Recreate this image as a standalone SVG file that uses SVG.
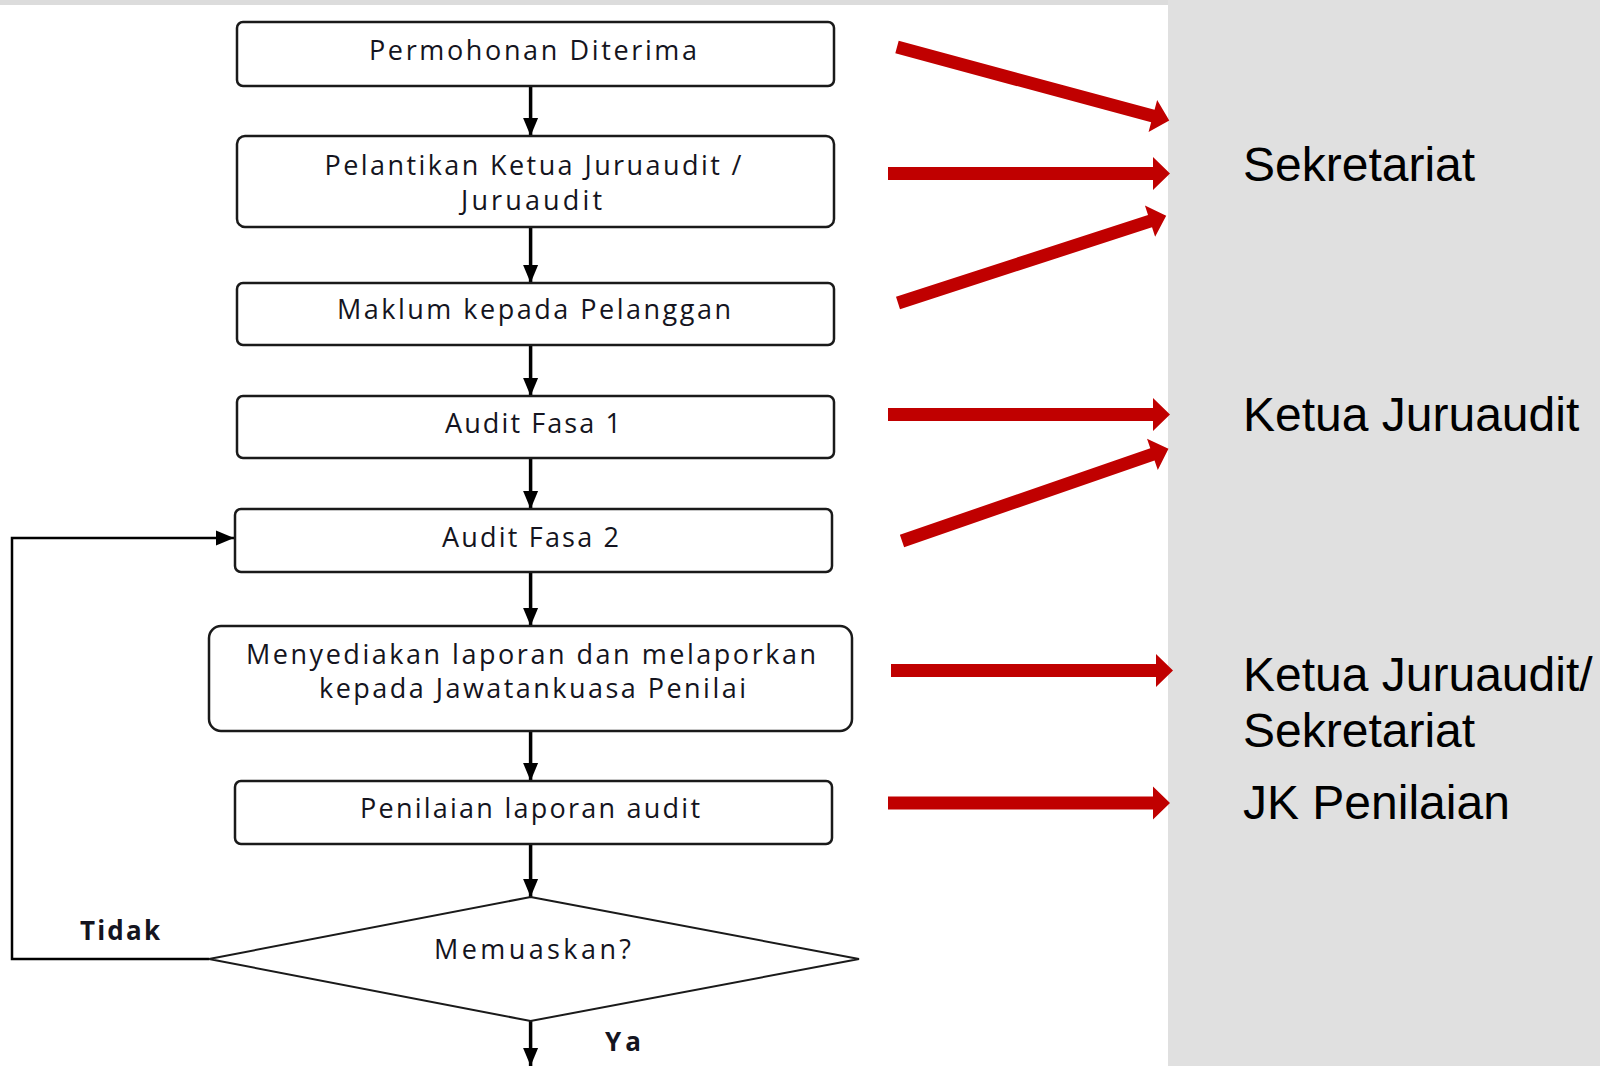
<svg xmlns="http://www.w3.org/2000/svg" xmlns:xlink="http://www.w3.org/1999/xlink" width="1600" height="1066" viewBox="0 0 1600 1066">
<style>
.box{fill:#ffffff;stroke:#1a1a1a;stroke-width:2.5}
.flow{fill:none;stroke:#000;stroke-width:3.5}
.loop{fill:none;stroke:#000;stroke-width:2.5}
.t{font-family:"Open Sans","Liberation Sans",sans-serif;font-size:27px;fill:#141420;text-anchor:middle}
.lbl{font-family:"Open Sans","Liberation Sans",sans-serif;font-size:26px;font-weight:bold;fill:#141420}
.side{font-family:"Liberation Sans",Arial,sans-serif;font-size:48px;fill:#000}
.red{fill:#c00000}
</style>
<defs>
<marker id="ah" markerUnits="userSpaceOnUse" markerWidth="18" markerHeight="18" viewBox="0 0 18 18" refX="18" refY="9" orient="auto">
<path d="M0,1.5 L18,9 L0,16.5 Z" fill="#000"/>
</marker>
<path id="redArrow" d="M0,-6.5 H265 V-16.5 L282,0 L265,16.5 V6.5 H0 Z"/>
</defs>
<rect x="0" y="0" width="1600" height="1066" fill="#ffffff"/>
<rect x="0" y="0" width="1600" height="5" fill="#dcdcdc"/>
<rect x="1168" y="0" width="432" height="1066" fill="#e0e0e0"/>

<g id="connectors">
<line class="flow" x1="530.6" y1="86" x2="530.6" y2="136" marker-end="url(#ah)"/>
<line class="flow" x1="530.6" y1="227" x2="530.6" y2="283" marker-end="url(#ah)"/>
<line class="flow" x1="530.6" y1="345" x2="530.6" y2="396" marker-end="url(#ah)"/>
<line class="flow" x1="530.6" y1="458" x2="530.6" y2="509" marker-end="url(#ah)"/>
<line class="flow" x1="530.6" y1="572" x2="530.6" y2="626" marker-end="url(#ah)"/>
<line class="flow" x1="530.6" y1="731" x2="530.6" y2="781" marker-end="url(#ah)"/>
<line class="flow" x1="530.6" y1="844" x2="530.6" y2="897" marker-end="url(#ah)"/>
<line class="flow" x1="530.6" y1="1021" x2="530.6" y2="1066" marker-end="url(#ah)"/>
<polyline class="loop" points="209,959 12,959 12,538 234,538" marker-end="url(#ah)"/>
</g>

<g id="red-arrows" class="red">
<use xlink:href="#redArrow" transform="translate(897,47) rotate(15.1)"/>
<use xlink:href="#redArrow" transform="translate(888,173.5)"/>
<use xlink:href="#redArrow" transform="translate(898,303) rotate(-18)"/>
<use xlink:href="#redArrow" transform="translate(888,414.5)"/>
<use xlink:href="#redArrow" transform="translate(902,541) rotate(-19.1)"/>
<use xlink:href="#redArrow" transform="translate(891,670.5)"/>
<use xlink:href="#redArrow" transform="translate(888,803)"/>
</g>

<g id="node-permohonan">
<rect class="box" x="237" y="22" width="597" height="64" rx="6"/>
<text class="t" x="533" y="60" textLength="328" lengthAdjust="spacing">Permohonan Diterima</text>
</g>
<g id="node-pelantikan">
<rect class="box" x="237" y="136" width="597" height="91" rx="8"/>
<text class="t" x="533" y="175" textLength="417" lengthAdjust="spacing">Pelantikan Ketua Juruaudit /</text>
<text class="t" x="531.5" y="210" textLength="141" lengthAdjust="spacing">Juruaudit</text>
</g>
<g id="node-maklum">
<rect class="box" x="237" y="283" width="597" height="62" rx="6"/>
<text class="t" x="534" y="319" textLength="394" lengthAdjust="spacing">Maklum kepada Pelanggan</text>
</g>
<g id="node-fasa1">
<rect class="box" x="237" y="396" width="597" height="62" rx="6"/>
<text class="t" x="533" y="433" textLength="176" lengthAdjust="spacing">Audit Fasa 1</text>
</g>
<g id="node-fasa2">
<rect class="box" x="235" y="509" width="597" height="63" rx="6"/>
<text class="t" x="530.5" y="547" textLength="177" lengthAdjust="spacing">Audit Fasa 2</text>
</g>
<g id="node-laporan">
<rect class="box" x="209" y="626" width="643" height="105" rx="12"/>
<text class="t" x="531" y="664" textLength="570" lengthAdjust="spacing">Menyediakan laporan dan melaporkan</text>
<text class="t" x="532.5" y="698" textLength="427" lengthAdjust="spacing">kepada Jawatankuasa Penilai</text>
</g>
<g id="node-penilaian">
<rect class="box" x="235" y="781" width="597" height="63" rx="6"/>
<text class="t" x="530" y="818" textLength="340" lengthAdjust="spacing">Penilaian laporan audit</text>
</g>
<g id="node-memuaskan">
<polygon points="530.6,897 859,959 530.6,1021 209,959" fill="#fff" stroke="#1a1a1a" stroke-width="2"/>
<text class="t" x="532.5" y="959" textLength="197" lengthAdjust="spacing">Memuaskan?</text>
</g>
<g id="edge-labels">
<text class="lbl" x="80" y="940" textLength="80" lengthAdjust="spacing">Tidak</text>
<text class="lbl" x="605" y="1051" textLength="36" lengthAdjust="spacing">Ya</text>
</g>

<g id="roles">
<text class="side" x="1243" y="181">Sekretariat</text>
<text class="side" x="1243" y="431">Ketua Juruaudit</text>
<text class="side" x="1243" y="691">Ketua Juruaudit/</text>
<text class="side" x="1243" y="747">Sekretariat</text>
<text class="side" x="1243" y="819">JK Penilaian</text>
</g>
</svg>
